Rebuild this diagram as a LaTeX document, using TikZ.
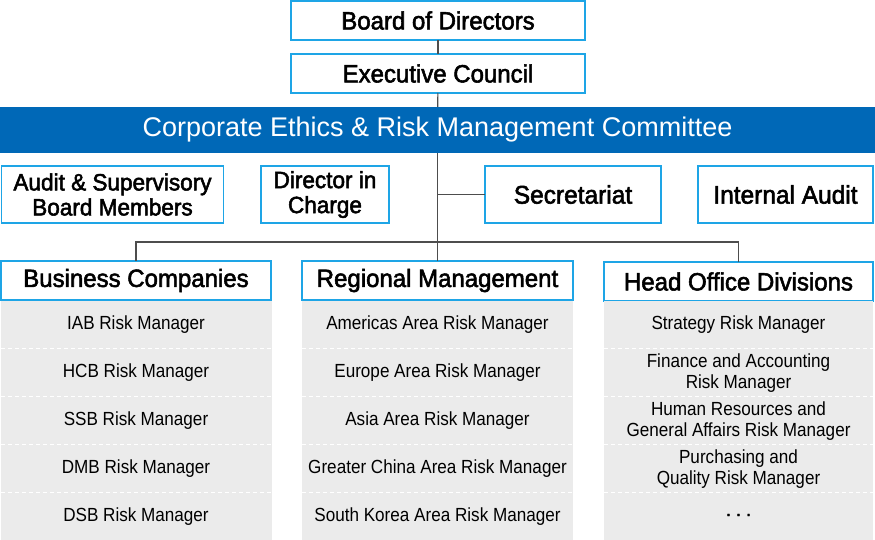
\documentclass[tikz,border=0pt]{standalone}
\usepackage{fontspec}
\setmainfont{Liberation Sans}[FakeStretch=0.9]
\newfontfamily\headfont{Liberation Sans}[FakeStretch=0.96,FakeBold=2.2]
\newfontfamily\barfont{Liberation Sans}
\usepackage{tikz}
\usetikzlibrary{shapes,arrows,positioning}
\definecolor{edgeblue}{HTML}{1EA5E6}
\definecolor{barblue}{HTML}{0068B7}
\definecolor{cellgray}{HTML}{EBEBEB}
\definecolor{linegray}{HTML}{4D4D4D}
\tikzstyle{block} = [rectangle, draw=edgeblue, line width=1.8pt, fill=white, inner sep=0pt, outer sep=0pt, align=center, font=\headfont\fontsize{25}{27}\selectfont]
\tikzstyle{twoline} = [block, minimum height=57pt, font=\headfont\fontsize{23.5}{25}\selectfont]
\tikzstyle{head} = [block, minimum width=270pt, minimum height=39pt]
\tikzstyle{item} = [rectangle, fill=cellgray, inner sep=0pt, outer sep=0pt, minimum width=271pt, minimum height=48pt, align=center, text depth=3pt, font=\fontsize{19}{21.5}\selectfont]
\tikzstyle{sep} = [draw=white, line width=1.2pt, dash pattern=on 4pt off 3pt]
\tikzstyle{line} = [draw=linegray, line width=1.1pt]

\begin{document}
\begin{tikzpicture}[x=1pt, y=-1pt]
  \useasboundingbox (0,0) rectangle (875,540);
  % top of the chart
  \node [block, minimum width=294pt, minimum height=39pt] (board) at (438,20.5) {Board of Directors};
  \node [block, minimum width=294pt, minimum height=39pt] (exec) at (438,73.5) {Executive Council};
  \node [rectangle, fill=barblue, text=white, minimum width=875pt, minimum height=46pt, inner sep=0pt, font=\barfont\fontsize{27}{29}\selectfont] (crm) at (437.5,130) {Corporate Ethics \& Risk Management Committee};

  \node [twoline, minimum width=222pt] (asb) at (112.5,194.5) {Audit \& Supervisory\\Board Members};
  \node [twoline, minimum width=128pt] (dic) at (325,194.5) {Director in\\Charge};
  \node [twoline, minimum width=176pt, font=\headfont\fontsize{25.5}{27}\selectfont] (secr) at (573,194.5) {Secretariat};
  \node [twoline, minimum width=175pt, font=\headfont\fontsize{25.5}{27}\selectfont] (iaud) at (785.5,194.5) {Internal Audit};

  % three columns
  \node [head] (bc) at (136,280.5) {Business Companies};
  \node [head, minimum width=271pt] (rm) at (437.5,280.5) {Regional Management};
  \node [head, minimum width=269pt] (hod) at (738.5,281.5) {Head Office Divisions};

  \node [item] (bc1) at (136,324.5) {IAB Risk Manager};
  \node [item] (bc2) at (136,372.5) {HCB Risk Manager};
  \node [item] (bc3) at (136,420.5) {SSB Risk Manager};
  \node [item] (bc4) at (136,468.5) {DMB Risk Manager};
  \node [item] (bc5) at (136,516.5) {DSB Risk Manager};

  \node [item] (rm1) at (437.5,324.5) {Americas Area Risk Manager};
  \node [item] (rm2) at (437.5,372.5) {Europe Area Risk Manager};
  \node [item] (rm3) at (437.5,420.5) {Asia Area Risk Manager};
  \node [item] (rm4) at (437.5,468.5) {Greater China Area Risk Manager};
  \node [item] (rm5) at (437.5,516.5) {South Korea Area Risk Manager};

  \node [item, minimum width=269pt] (hod1) at (738.5,324.5) {Strategy Risk Manager};
  \node [item, minimum width=269pt] (hod2) at (738.5,372.5) {Finance and Accounting\\Risk Manager};
  \node [item, minimum width=269pt] (hod3) at (738.5,420.5) {Human Resources and\\General Affairs Risk Manager};
  \node [item, minimum width=269pt] (hod4) at (738.5,468.5) {Purchasing and\\Quality Risk Manager};
  \node [item, minimum width=269pt, font=\headfont\fontsize{19}{21.5}\selectfont] (hod5) at (738.5,516.5) {.\hspace{5pt}.\hspace{5pt}.};

  \foreach \c in {bc,rm,hod}
    \foreach \r in {1,2,3,4}
      \path [sep] (\c\r.south west) -- (\c\r.south east);

  % connectors
  \coordinate (bus) at (438,242);
  \path [line] (board) -- (exec);
  \path [line] (exec) -- (crm);
  \path [line] (crm) -- (rm);
  \path [line] (crm.south |- secr.west) -- (secr.west);
  \path [line] (bc.north) |- (bus) -| (hod.north);
\end{tikzpicture}
\end{document}
